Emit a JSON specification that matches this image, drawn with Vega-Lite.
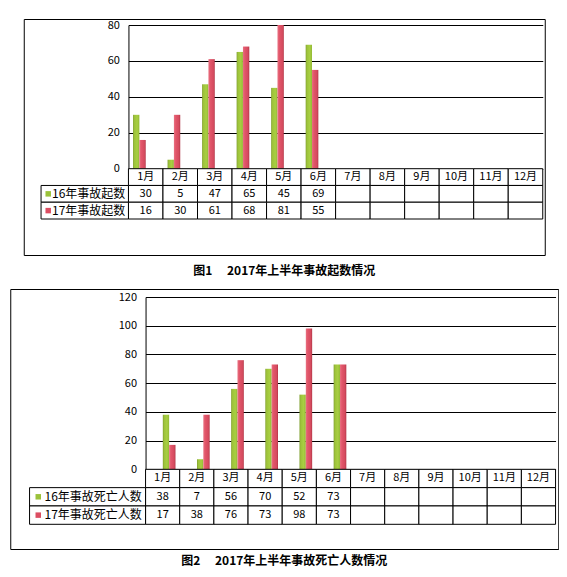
{
  "$schema": "https://vega.github.io/schema/vega-lite/v6.json",
  "padding": {"left": 9, "top": 18, "right": 0, "bottom": 0},
  "background": "white",
  "center": true,
  "spacing": 10,
  "datasets": {
    "c1": [
      {"month": "1月", "series": "16年事故起数", "value": 30},
      {"month": "2月", "series": "16年事故起数", "value": 5},
      {"month": "3月", "series": "16年事故起数", "value": 47},
      {"month": "4月", "series": "16年事故起数", "value": 65},
      {"month": "5月", "series": "16年事故起数", "value": 45},
      {"month": "6月", "series": "16年事故起数", "value": 69},
      {"month": "7月", "series": "16年事故起数", "value": null},
      {"month": "8月", "series": "16年事故起数", "value": null},
      {"month": "9月", "series": "16年事故起数", "value": null},
      {"month": "10月", "series": "16年事故起数", "value": null},
      {"month": "11月", "series": "16年事故起数", "value": null},
      {"month": "12月", "series": "16年事故起数", "value": null},
      {"month": "1月", "series": "17年事故起数", "value": 16},
      {"month": "2月", "series": "17年事故起数", "value": 30},
      {"month": "3月", "series": "17年事故起数", "value": 61},
      {"month": "4月", "series": "17年事故起数", "value": 68},
      {"month": "5月", "series": "17年事故起数", "value": 81},
      {"month": "6月", "series": "17年事故起数", "value": 55},
      {"month": "7月", "series": "17年事故起数", "value": null},
      {"month": "8月", "series": "17年事故起数", "value": null},
      {"month": "9月", "series": "17年事故起数", "value": null},
      {"month": "10月", "series": "17年事故起数", "value": null},
      {"month": "11月", "series": "17年事故起数", "value": null},
      {"month": "12月", "series": "17年事故起数", "value": null}
    ],
    "c2": [
      {"month": "1月", "series": "16年事故死亡人数", "value": 38},
      {"month": "2月", "series": "16年事故死亡人数", "value": 7},
      {"month": "3月", "series": "16年事故死亡人数", "value": 56},
      {"month": "4月", "series": "16年事故死亡人数", "value": 70},
      {"month": "5月", "series": "16年事故死亡人数", "value": 52},
      {"month": "6月", "series": "16年事故死亡人数", "value": 73},
      {"month": "7月", "series": "16年事故死亡人数", "value": null},
      {"month": "8月", "series": "16年事故死亡人数", "value": null},
      {"month": "9月", "series": "16年事故死亡人数", "value": null},
      {"month": "10月", "series": "16年事故死亡人数", "value": null},
      {"month": "11月", "series": "16年事故死亡人数", "value": null},
      {"month": "12月", "series": "16年事故死亡人数", "value": null},
      {"month": "1月", "series": "17年事故死亡人数", "value": 17},
      {"month": "2月", "series": "17年事故死亡人数", "value": 38},
      {"month": "3月", "series": "17年事故死亡人数", "value": 76},
      {"month": "4月", "series": "17年事故死亡人数", "value": 73},
      {"month": "5月", "series": "17年事故死亡人数", "value": 98},
      {"month": "6月", "series": "17年事故死亡人数", "value": 73},
      {"month": "7月", "series": "17年事故死亡人数", "value": null},
      {"month": "8月", "series": "17年事故死亡人数", "value": null},
      {"month": "9月", "series": "17年事故死亡人数", "value": null},
      {"month": "10月", "series": "17年事故死亡人数", "value": null},
      {"month": "11月", "series": "17年事故死亡人数", "value": null},
      {"month": "12月", "series": "17年事故死亡人数", "value": null}
    ]
  },
  "vconcat": [
    {
      "width": 521,
      "height": 236,
      "data": {"name": "c1"},
      "title": {"text": "图1\u3000 2017年上半年事故起数情况", "orient": "bottom", "anchor": "middle", "offset": 11, "fontSize": 12, "fontWeight": "bold", "font": "Noto Sans CJK SC", "color": "black"},
      "resolve": {"scale": {"x": "independent", "y": "independent"}},
      "layer": [
        {
          "transform": [{"filter": "isValid(datum.value)"}],
          "mark": {"type": "bar"},
          "encoding": {
            "x": {"field": "month", "type": "nominal", "sort": null, "scale": {"domain": ["1月","2月","3月","4月","5月","6月","7月","8月","9月","10月","11月","12月"], "range": [104.7, 519], "paddingInner": 0, "paddingOuter": 0}, "axis": null},
            "xOffset": {"field": "series", "type": "nominal", "scale": {"domain": ["16年事故起数", "17年事故起数"], "paddingInner": 0, "paddingOuter": 0.725}},
            "y": {"field": "value", "type": "quantitative", "scale": {"domain": [0, 80], "range": [149.7, 6], "nice": false, "clamp": true}, "axis": {"offset": -104.7, "values": [0, 20, 40, 60, 80], "ticks": false, "domain": true, "domainColor": "black", "grid": true, "gridColor": "black", "gridWidth": 1, "gridOpacity": 1, "labelPadding": 9, "labelFontSize": 11, "labelFont": "Noto Sans CJK SC", "labelColor": "black", "title": null}},
            "color": {
              "condition": {"test": "datum.series === '16年事故起数'", "value": {"gradient": "linear", "x1": 0, "x2": 1, "y1": 0, "y2": 0, "stops": [{"offset": 0, "color": "#7F9F2F"}, {"offset": 0.2, "color": "#9DC23A"}, {"offset": 0.65, "color": "#A8CF42"}, {"offset": 1, "color": "#93B935"}]}},
              "value": {"gradient": "linear", "x1": 0, "x2": 1, "y1": 0, "y2": 0, "stops": [{"offset": 0, "color": "#E87282"}, {"offset": 0.3, "color": "#E2566A"}, {"offset": 0.8, "color": "#D44A5E"}, {"offset": 1, "color": "#B03444"}]}
            }
          }
        },
        {
          "encoding": {
            "x": {"field": "month", "type": "nominal", "sort": null, "scale": {"domain": ["1月","2月","3月","4月","5月","6月","7月","8月","9月","10月","11月","12月"], "range": [104.7, 519], "paddingInner": 0, "paddingOuter": 0}, "axis": null}
          },
          "layer": [
            {
              "transform": [{"filter": "datum.series === '16年事故起数'"}],
              "mark": {"type": "rect", "fill": "white", "stroke": "black", "strokeWidth": 1},
              "encoding": {"y": {"datum": "月份", "type": "nominal", "scale": {"domain": ["月份", "16年事故起数", "17年事故起数"], "range": [149.7, 200], "paddingInner": 0, "paddingOuter": 0}, "axis": null}}
            },
            {
              "transform": [{"filter": "datum.series === '16年事故起数'"}],
              "mark": {"type": "text", "fontSize": 11, "font": "Noto Sans CJK SC", "color": "black", "baseline": "middle"},
              "encoding": {"y": {"datum": "月份", "type": "nominal", "axis": null}, "text": {"field": "month", "type": "nominal"}}
            },
            {
              "mark": {"type": "rect", "fill": "white", "stroke": "black", "strokeWidth": 1},
              "encoding": {"y": {"field": "series", "type": "nominal", "axis": null}}
            },
            {
              "transform": [{"filter": "isValid(datum.value)"}],
              "mark": {"type": "text", "fontSize": 11, "font": "Noto Sans CJK SC", "color": "black", "baseline": "middle"},
              "encoding": {"y": {"field": "series", "type": "nominal", "axis": null}, "text": {"field": "value", "type": "quantitative"}}
            }
          ]
        },
        {
          "transform": [{"filter": "datum.month === '1月'"}],
          "encoding": {
            "y": {"field": "series", "type": "nominal", "scale": {"domain": ["月份", "16年事故起数", "17年事故起数"], "range": [149.7, 200], "paddingInner": 0, "paddingOuter": 0}, "axis": null}
          },
          "layer": [
            {
              "mark": {"type": "rect", "fill": "white", "stroke": "black", "strokeWidth": 1},
              "encoding": {"x": {"datum": 0, "type": "quantitative", "scale": {"domain": [0, 1], "range": [17.3, 104.7], "nice": false, "zero": false}, "axis": null}, "x2": {"datum": 1}}
            },
            {
              "mark": {"type": "point", "shape": "square", "filled": true, "size": 30, "opacity": 1},
              "encoding": {"x": {"datum": 0.082, "type": "quantitative"}, "color": {"field": "series", "type": "nominal", "scale": {"domain": ["16年事故起数", "17年事故起数"], "range": ["#9BC23A", "#DC4E62"]}, "legend": null}}
            },
            {
              "mark": {"type": "text", "align": "left", "baseline": "middle", "fontSize": 12, "font": "Noto Sans CJK SC", "color": "black"},
              "encoding": {"x": {"datum": 0.125, "type": "quantitative"}, "text": {"field": "series", "type": "nominal"}}
            }
          ]
        }
      ]
    },
    {
      "width": 548,
      "height": 260,
      "data": {"name": "c2"},
      "title": {"text": "图2\u3000 2017年上半年事故死亡人数情况", "orient": "bottom", "anchor": "middle", "offset": 7, "fontSize": 12, "fontWeight": "bold", "font": "Noto Sans CJK SC", "color": "black"},
      "resolve": {"scale": {"x": "independent", "y": "independent"}},
      "layer": [
        {
          "transform": [{"filter": "isValid(datum.value)"}],
          "mark": {"type": "bar"},
          "encoding": {
            "x": {"field": "month", "type": "nominal", "sort": null, "scale": {"domain": ["1月","2月","3月","4月","5月","6月","7月","8月","9月","10月","11月","12月"], "range": [135.3, 545.3], "paddingInner": 0, "paddingOuter": 0}, "axis": null},
            "xOffset": {"field": "series", "type": "nominal", "scale": {"domain": ["16年事故死亡人数", "17年事故死亡人数"], "paddingInner": 0, "paddingOuter": 0.708}},
            "y": {"field": "value", "type": "quantitative", "scale": {"domain": [0, 120], "range": [180.3, 8], "nice": false, "clamp": true}, "axis": {"offset": -135.3, "values": [0, 20, 40, 60, 80, 100, 120], "ticks": false, "domain": true, "domainColor": "black", "grid": true, "gridColor": "black", "gridWidth": 1, "gridOpacity": 1, "labelPadding": 9, "labelFontSize": 11, "labelFont": "Noto Sans CJK SC", "labelColor": "black", "title": null}},
            "color": {
              "condition": {"test": "datum.series === '16年事故死亡人数'", "value": {"gradient": "linear", "x1": 0, "x2": 1, "y1": 0, "y2": 0, "stops": [{"offset": 0, "color": "#7F9F2F"}, {"offset": 0.2, "color": "#9DC23A"}, {"offset": 0.65, "color": "#A8CF42"}, {"offset": 1, "color": "#93B935"}]}},
              "value": {"gradient": "linear", "x1": 0, "x2": 1, "y1": 0, "y2": 0, "stops": [{"offset": 0, "color": "#E87282"}, {"offset": 0.3, "color": "#E2566A"}, {"offset": 0.8, "color": "#D44A5E"}, {"offset": 1, "color": "#B03444"}]}
            }
          }
        },
        {
          "encoding": {
            "x": {"field": "month", "type": "nominal", "sort": null, "scale": {"domain": ["1月","2月","3月","4月","5月","6月","7月","8月","9月","10月","11月","12月"], "range": [135.3, 545.3], "paddingInner": 0, "paddingOuter": 0}, "axis": null}
          },
          "layer": [
            {
              "transform": [{"filter": "datum.series === '16年事故死亡人数'"}],
              "mark": {"type": "rect", "fill": "white", "stroke": "black", "strokeWidth": 1},
              "encoding": {"y": {"datum": "月份", "type": "nominal", "scale": {"domain": ["月份", "16年事故死亡人数", "17年事故死亡人数"], "range": [180.3, 235.3], "paddingInner": 0, "paddingOuter": 0}, "axis": null}}
            },
            {
              "transform": [{"filter": "datum.series === '16年事故死亡人数'"}],
              "mark": {"type": "text", "fontSize": 11, "font": "Noto Sans CJK SC", "color": "black", "baseline": "middle"},
              "encoding": {"y": {"datum": "月份", "type": "nominal", "axis": null}, "text": {"field": "month", "type": "nominal"}}
            },
            {
              "mark": {"type": "rect", "fill": "white", "stroke": "black", "strokeWidth": 1},
              "encoding": {"y": {"field": "series", "type": "nominal", "axis": null}}
            },
            {
              "transform": [{"filter": "isValid(datum.value)"}],
              "mark": {"type": "text", "fontSize": 11, "font": "Noto Sans CJK SC", "color": "black", "baseline": "middle"},
              "encoding": {"y": {"field": "series", "type": "nominal", "axis": null}, "text": {"field": "value", "type": "quantitative"}}
            }
          ]
        },
        {
          "transform": [{"filter": "datum.month === '1月'"}],
          "encoding": {
            "y": {"field": "series", "type": "nominal", "scale": {"domain": ["月份", "16年事故死亡人数", "17年事故死亡人数"], "range": [180.3, 235.3], "paddingInner": 0, "paddingOuter": 0}, "axis": null}
          },
          "layer": [
            {
              "mark": {"type": "rect", "fill": "white", "stroke": "black", "strokeWidth": 1},
              "encoding": {"x": {"datum": 0, "type": "quantitative", "scale": {"domain": [0, 1], "range": [19.3, 135.3], "nice": false, "zero": false}, "axis": null}, "x2": {"datum": 1}}
            },
            {
              "mark": {"type": "point", "shape": "square", "filled": true, "size": 30, "opacity": 1},
              "encoding": {"x": {"datum": 0.075, "type": "quantitative"}, "color": {"field": "series", "type": "nominal", "scale": {"domain": ["16年事故死亡人数", "17年事故死亡人数"], "range": ["#9BC23A", "#DC4E62"]}, "legend": null}}
            },
            {
              "mark": {"type": "text", "align": "left", "baseline": "middle", "fontSize": 12, "font": "Noto Sans CJK SC", "color": "black"},
              "encoding": {"x": {"datum": 0.129, "type": "quantitative"}, "text": {"field": "series", "type": "nominal"}}
            }
          ]
        }
      ]
    }
  ],
  "config": {
    "view": {"stroke": "black", "strokeWidth": 1},
    "font": "Noto Sans CJK SC"
  }
}
